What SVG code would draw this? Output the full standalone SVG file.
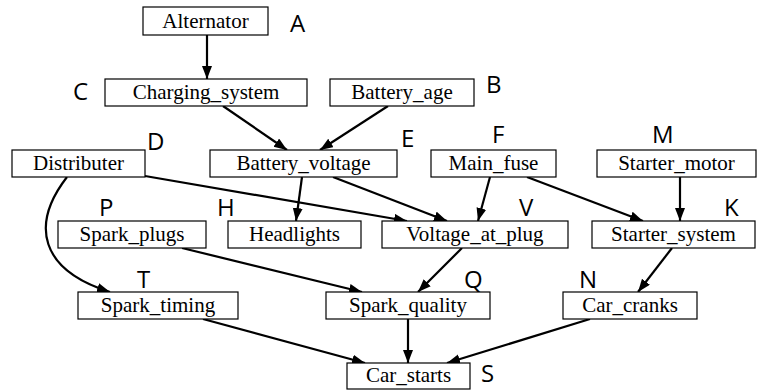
<svg xmlns="http://www.w3.org/2000/svg" width="758" height="390" viewBox="0 0 758 390">
<style>
.box{fill:#fff;stroke:#000;stroke-width:1.2}
.lbl{font-family:'Liberation Serif','Times New Roman','DejaVu Serif',serif;font-size:21px;text-anchor:middle;fill:#000}
.tag{font-family:'Open Sans','Liberation Sans',sans-serif;font-size:24px;fill:#000}
.e{fill:none;stroke:#000;stroke-width:2.2;marker-end:url(#ah)}
</style>
<defs>
<marker id="ah" markerUnits="userSpaceOnUse" markerWidth="14" markerHeight="11" refX="13" refY="5" orient="auto">
<path d="M0,0 L13,5 L0,10 z" fill="#000"/>
</marker>
</defs>
<rect width="758" height="390" fill="#fff"/>
<g id="connectors">
<path class="e" d="M207,35 L207,79"/>
<path class="e" d="M223,106 L287,150"/>
<path class="e" d="M388,106 L320,150"/>
<path class="e" d="M145,176 L407,221"/>
<path class="e" d="M67,177 C30,225 40,270 110,292"/>
<path class="e" d="M302,177 L296,221"/>
<path class="e" d="M333,177 L447,221"/>
<path class="e" d="M490,177 L478,221"/>
<path class="e" d="M527,177 L643,221"/>
<path class="e" d="M680,177 L680,221"/>
<path class="e" d="M182,248 L362,292"/>
<path class="e" d="M462,248 L418,292"/>
<path class="e" d="M672,248 L638,292"/>
<path class="e" d="M203,319 L365,363"/>
<path class="e" d="M408,319 L408,363"/>
<path class="e" d="M590,319 L447,363"/>
</g>
<g id="A"><rect class="box" x="143" y="7" width="125" height="28"/><text class="lbl" font-family="Liberation Serif, serif" x="205.5" y="28">Alternator</text><text class="tag" x="290" y="32">A</text></g>
<g id="C"><rect class="box" x="105" y="79" width="202" height="27"/><text class="lbl" font-family="Liberation Serif, serif" x="206" y="99">Charging_system</text><text class="tag" x="73" y="100">C</text></g>
<g id="B"><rect class="box" x="330" y="79" width="144" height="27"/><text class="lbl" font-family="Liberation Serif, serif" x="402" y="99">Battery_age</text><text class="tag" x="486" y="93">B</text></g>
<g id="D"><rect class="box" x="12" y="150" width="133" height="27"/><text class="lbl" font-family="Liberation Serif, serif" x="78.5" y="170">Distributer</text><text class="tag" x="147" y="150">D</text></g>
<g id="E"><rect class="box" x="210" y="150" width="187" height="27"/><text class="lbl" font-family="Liberation Serif, serif" x="303.5" y="170">Battery_voltage</text><text class="tag" x="401" y="147">E</text></g>
<g id="F"><rect class="box" x="431" y="150" width="125" height="27"/><text class="lbl" font-family="Liberation Serif, serif" x="493.5" y="170">Main_fuse</text><text class="tag" x="492" y="143">F</text></g>
<g id="M"><rect class="box" x="597" y="150" width="159" height="27"/><text class="lbl" font-family="Liberation Serif, serif" x="676.5" y="170">Starter_motor</text><text class="tag" x="652" y="143">M</text></g>
<g id="P"><rect class="box" x="58" y="221" width="148" height="27"/><text class="lbl" font-family="Liberation Serif, serif" x="132" y="241">Spark_plugs</text><text class="tag" x="99" y="216">P</text></g>
<g id="H"><rect class="box" x="228" y="221" width="133" height="27"/><text class="lbl" font-family="Liberation Serif, serif" x="294.5" y="241">Headlights</text><text class="tag" x="217" y="216">H</text></g>
<g id="V"><rect class="box" x="382" y="221" width="186" height="27"/><text class="lbl" font-family="Liberation Serif, serif" x="475" y="241">Voltage_at_plug</text><text class="tag" x="519" y="216">V</text></g>
<g id="K"><rect class="box" x="592" y="221" width="163" height="27"/><text class="lbl" font-family="Liberation Serif, serif" x="673.5" y="241">Starter_system</text><text class="tag" x="724" y="216">K</text></g>
<g id="T"><rect class="box" x="78" y="292" width="160" height="27"/><text class="lbl" font-family="Liberation Serif, serif" x="158" y="312">Spark_timing</text><text class="tag" x="137" y="288">T</text></g>
<g id="Q"><rect class="box" x="326" y="292" width="164" height="27"/><text class="lbl" font-family="Liberation Serif, serif" x="408" y="312">Spark_quality</text><text class="tag" x="464" y="288">Q</text></g>
<g id="N"><rect class="box" x="563" y="292" width="134" height="27"/><text class="lbl" font-family="Liberation Serif, serif" x="630" y="312">Car_cranks</text><text class="tag" x="579" y="288">N</text></g>
<g id="S"><rect class="box" x="347" y="363" width="123" height="26"/><text class="lbl" font-family="Liberation Serif, serif" x="408.5" y="382">Car_starts</text><text class="tag" x="481" y="382">S</text></g>
</svg>
